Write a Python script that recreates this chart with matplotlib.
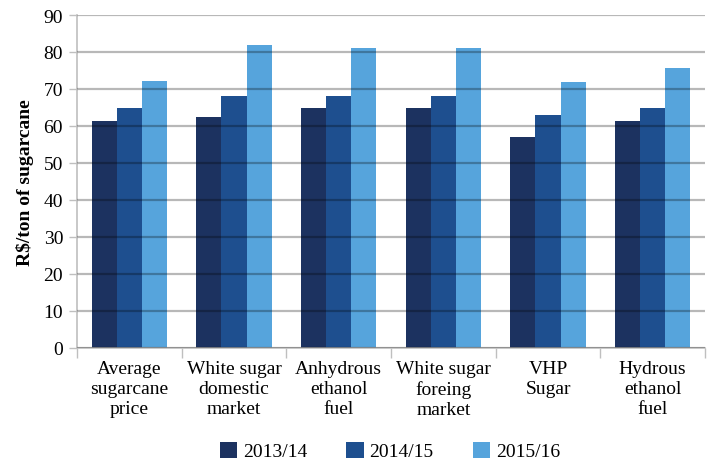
import numpy as np
import matplotlib
matplotlib.use('Agg')
import matplotlib.pyplot as plt

categories = ['Average\nsugarcane\nprice', 'White sugar\ndomestic\nmarket',
              'Anhydrous\nethanol\nfuel', 'White sugar\nforeing\nmarket',
              'VHP\nSugar', 'Hydrous\nethanol\nfuel']
seasons = ['2013/14', '2014/15', '2015/16']
v_2013 = [61.3, 62.4, 64.8, 64.8, 56.9, 61.3]
v_2014 = [64.8, 68.0, 68.0, 68.0, 62.9, 64.8]
v_2015 = [72.1, 81.8, 81.0, 81.0, 71.8, 75.6]
colors = ['#1c3260', '#1e4f8f', '#56a4dc']

plt.rcParams['font.family'] = ['Liberation Serif', 'DejaVu Serif']

fig = plt.figure(figsize=(7.09, 4.64), dpi=100)
ax = fig.add_axes([0.1086, 0.248, 0.8858, 0.7175])

x = np.arange(len(categories))
w = 0.24
for i, (vals, lab) in enumerate(zip([v_2013, v_2014, v_2015], seasons)):
    ax.bar(x + (i - 1) * w, vals, w, color=colors[i], label=lab, zorder=2)

ax.set_xlim(-0.5, len(categories) - 0.5)
ax.set_ylim(0, 90)
ax.set_yticks(np.arange(0, 91, 10))
ax.yaxis.grid(True, color='black', alpha=0.28, linewidth=1.6, zorder=3)
ax.set_axisbelow(False)

ax.set_xticks(x)
ax.set_xticklabels(categories, fontsize=14, linespacing=1.2)
ax.set_xticks(np.arange(-0.5, len(categories), 1), minor=True)
ax.tick_params(axis='x', which='major', length=0, pad=9)
ax.tick_params(axis='x', which='minor', length=7, color='#bfbfbf', width=1)
ax.tick_params(axis='y', length=6, color='#bfbfbf', width=1, labelsize=14, pad=4)

for s in ['top', 'right']:
    ax.spines[s].set_visible(False)
ax.spines['left'].set_color('#bfbfbf')
ax.spines['bottom'].set_color('#bfbfbf')
ax.spines['left'].set_linewidth(1.2)
ax.spines['bottom'].set_linewidth(1.2)

ax.set_ylabel('R$/ton of sugarcane', fontsize=14, fontweight='bold')
ax.yaxis.set_label_coords(-0.068, 0.5)

fig.legend(loc='center', bbox_to_anchor=(0.55, 0.026), ncol=3, frameon=False,
           fontsize=14, handlelength=0.9, handleheight=0.9, columnspacing=2.0,
           handletextpad=0.3)

fig.savefig('out.png', dpi=100)
